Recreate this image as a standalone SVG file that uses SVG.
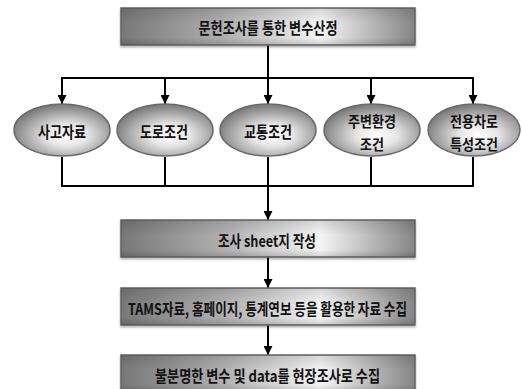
<svg xmlns="http://www.w3.org/2000/svg" width="522" height="389" viewBox="0 0 522 389">
<defs>
<linearGradient id="boxg" x1="0" y1="0" x2="1" y2="0">
<stop offset="0" stop-color="#777"/>
<stop offset="0.35" stop-color="#b0b0b0"/>
<stop offset="0.68" stop-color="#f4f4f4"/>
<stop offset="1" stop-color="#858585"/>
</linearGradient>
<linearGradient id="boxv" x1="0" y1="0" x2="0" y2="1">
<stop offset="0" stop-color="#000" stop-opacity="0.12"/>
<stop offset="0.4" stop-color="#000" stop-opacity="0"/>
<stop offset="0.8" stop-color="#000" stop-opacity="0"/>
<stop offset="1" stop-color="#000" stop-opacity="0.15"/>
</linearGradient>
<radialGradient id="ellg" cx="0.55" cy="0.6" r="0.6">
<stop offset="0" stop-color="#ffffff"/>
<stop offset="0.35" stop-color="#e6e6e6"/>
<stop offset="1" stop-color="#777"/>
</radialGradient>
<marker id="arr" viewBox="0 0 10 10" refX="10" refY="5" markerWidth="4.5" markerHeight="4.5" orient="auto" markerUnits="strokeWidth">
<path d="M0,0 L10,5 L0,10 z" fill="#000"/>
</marker>
<filter id="sh" x="-5%" y="-10%" width="110%" height="130%">
<feDropShadow dx="0" dy="1.5" stdDeviation="1.2" flood-color="#000" flood-opacity="0.35"/>
</filter>
</defs>
<style>
.box{fill:url(#boxg);stroke:#666;stroke-width:1.5}
.boxo{fill:url(#boxv);stroke:none}
.ell{fill:url(#ellg);stroke:#6a6a6a;stroke-width:1.5}
.t{font-family:"Noto Sans CJK KR","Noto Sans",sans-serif;font-weight:bold;font-size:16px;fill:#111;text-anchor:middle;dominant-baseline:central}
.t2{font-size:15px}
.c{stroke:#000;stroke-width:2;fill:none}
</style>

<g id="connectors">
<line class="c" x1="268" y1="45" x2="268" y2="78"/>
<line class="c" x1="61" y1="78" x2="474" y2="78"/>
<line class="c" x1="62" y1="78" x2="62" y2="104" marker-end="url(#arr)"/>
<line class="c" x1="165" y1="78" x2="165" y2="104" marker-end="url(#arr)"/>
<line class="c" x1="268" y1="78" x2="268" y2="104" marker-end="url(#arr)"/>
<line class="c" x1="371" y1="78" x2="371" y2="104" marker-end="url(#arr)"/>
<line class="c" x1="473" y1="78" x2="473" y2="104" marker-end="url(#arr)"/>
<line class="c" x1="62" y1="157" x2="62" y2="186"/>
<line class="c" x1="165" y1="157" x2="165" y2="186"/>
<line class="c" x1="268" y1="157" x2="268" y2="186"/>
<line class="c" x1="371" y1="157" x2="371" y2="186"/>
<line class="c" x1="473" y1="157" x2="473" y2="186"/>
<line class="c" x1="61" y1="186" x2="474" y2="186"/>
<line class="c" x1="268" y1="186" x2="268" y2="220" marker-end="url(#arr)"/>
<line class="c" x1="268" y1="257" x2="268" y2="288" marker-end="url(#arr)"/>
<line class="c" x1="268" y1="325" x2="268" y2="355" marker-end="url(#arr)"/>
</g>

<g id="n-top">
<rect class="box" x="121" y="8" width="294" height="37" filter="url(#sh)"/>
<rect class="boxo" x="121" y="8" width="294" height="37"/>
<text class="t" x="268" y="27" textLength="139" lengthAdjust="spacingAndGlyphs">문헌조사를 통한 변수산정</text>
</g>

<g id="n-e1">
<ellipse class="ell" cx="62" cy="130" rx="48" ry="26"/>
<text class="t" x="62" y="131" textLength="48" lengthAdjust="spacingAndGlyphs">사고자료</text>
</g>
<g id="n-e2">
<ellipse class="ell" cx="165" cy="130" rx="48" ry="26"/>
<text class="t" x="164" y="131" textLength="48" lengthAdjust="spacingAndGlyphs">도로조건</text>
</g>
<g id="n-e3">
<ellipse class="ell" cx="268" cy="130" rx="48" ry="26"/>
<text class="t" x="268" y="131" textLength="48" lengthAdjust="spacingAndGlyphs">교통조건</text>
</g>
<g id="n-e4">
<ellipse class="ell" cx="372" cy="130" rx="48" ry="26"/>
<text class="t t2" x="372" y="120" textLength="48" lengthAdjust="spacingAndGlyphs">주변환경</text>
<text class="t t2" x="372" y="143" textLength="24" lengthAdjust="spacingAndGlyphs">조건</text>
</g>
<g id="n-e5">
<ellipse class="ell" cx="474" cy="130" rx="46" ry="26"/>
<text class="t t2" x="474" y="120" textLength="48" lengthAdjust="spacingAndGlyphs">전용차로</text>
<text class="t t2" x="474" y="143" textLength="48" lengthAdjust="spacingAndGlyphs">특성조건</text>
</g>

<g id="n-sheet">
<rect class="box" x="121" y="220" width="294" height="37" filter="url(#sh)"/>
<rect class="boxo" x="121" y="220" width="294" height="37"/>
<text class="t" x="267" y="240" textLength="98" lengthAdjust="spacingAndGlyphs">조사 sheet지 작성</text>
</g>

<g id="n-collect">
<rect class="box" x="121" y="288" width="294" height="37" filter="url(#sh)"/>
<rect class="boxo" x="121" y="288" width="294" height="37"/>
<text class="t" x="267.5" y="308" textLength="279" lengthAdjust="spacingAndGlyphs">TAMS자료, 홈페이지, 통계연보 등을 활용한 자료 수집</text>
</g>

<g id="n-field">
<rect class="box" x="121" y="355" width="294" height="37" filter="url(#sh)"/>
<rect class="boxo" x="121" y="355" width="294" height="37"/>
<text class="t" x="267.5" y="375" textLength="225" lengthAdjust="spacingAndGlyphs">불분명한 변수 및 data를 현장조사로 수집</text>
</g>
</svg>
